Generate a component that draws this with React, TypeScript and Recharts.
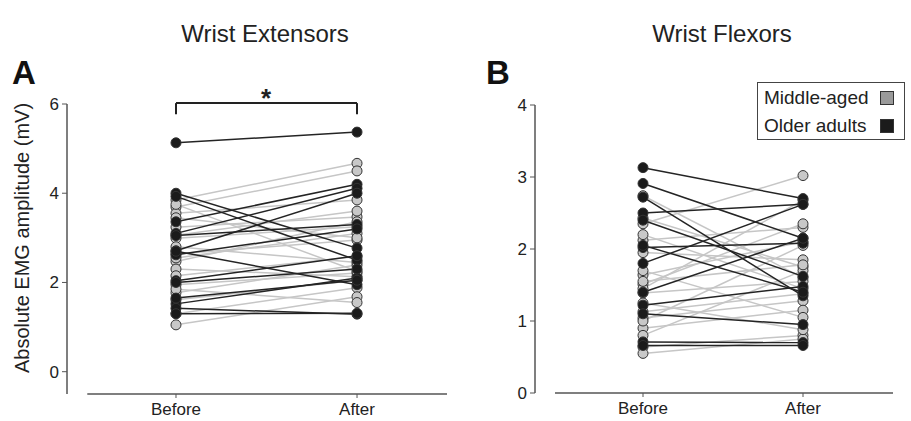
import React from 'react';
import { ComposedChart, Line, XAxis, YAxis, ReferenceLine, Legend } from 'recharts';

const conditions = ['Before', 'After'];
const panelTitles = ['Wrist Extensors', 'Wrist Flexors'];
const groupNames = ['Middle-aged', 'Older adults'];

// Wrist extensors (A), mV
const extMidBefore = [3.85, 3.69, 3.55, 3.24, 3.06, 2.99, 2.64, 2.47, 2.3, 2.15, 1.95, 1.77, 1.61, 1.3, 1.05, 2.8, 3.75, 1.85, 2.55, 3.45];
const extMidAfter = [4.67, 4.5, 3.85, 3.47, 3.6, 3.25, 2.95, 3.36, 2.13, 2.58, 2.21, 2.39, 2.05, 1.88, 1.68, 2.45, 2.25, 1.55, 3.1, 3.0];
const extOldBefore = [5.13, 4.0, 3.93, 3.36, 3.1, 2.71, 3.05, 2.62, 2.04, 1.52, 1.42, 2.7, 2.0, 1.65, 1.3];
const extOldAfter = [5.37, 2.77, 2.5, 4.2, 4.11, 4.0, 3.3, 3.2, 2.6, 2.1, 1.29, 1.95, 2.3, 2.05, 1.31];

// Wrist flexors (B), mV
const flexMidBefore = [2.74, 2.43, 2.35, 2.12, 1.95, 1.64, 1.51, 1.39, 1.13, 1.04, 0.9, 0.64, 0.55, 1.45, 1.7, 1.25, 0.8, 2.2, 1.0, 1.55];
const flexMidAfter = [1.6, 1.75, 3.02, 2.3, 1.85, 2.1, 2.35, 1.55, 1.38, 1.28, 1.15, 0.8, 0.75, 2.68, 1.05, 0.88, 1.7, 1.45, 2.05, 1.78];
const flexOldBefore = [3.13, 2.91, 2.72, 2.5, 2.4, 2.02, 1.8, 1.22, 1.1, 0.71, 0.66, 2.05, 1.4];
const flexOldAfter = [2.7, 2.15, 1.35, 2.62, 1.62, 2.08, 2.62, 1.48, 0.95, 0.7, 0.66, 1.4, 2.15];

const MID = { line: '#c6c6c6', fill: '#c8c8c8' };
const OLD = { line: '#242424', fill: '#1b1b1b' };
const AXIS = '#555';
const FONT = '"Liberation Sans", Arial, sans-serif';

const toPairs = (before: number[], after: number[]) =>
  before.map((b, i) => [
    { x: 0, v: b },
    { x: 1, v: after[i] },
  ]);

function subjectLines(before: number[], after: number[], color: { line: string; fill: string }, key: string) {
  return toPairs(before, after).map((d, i) => (
    <Line
      key={`${key}-${i}`}
      data={d}
      dataKey="v"
      type="linear"
      stroke={color.line}
      strokeWidth={1.5}
      dot={{ r: 5, fill: color.fill, stroke: '#333', strokeWidth: 1 }}
      activeDot={false}
      legendType="none"
      isAnimationActive={false}
    />
  ));
}

const LegendBox = () => (
  <div
    style={{
      border: '1px solid #444',
      width: 148,
      height: 58,
      boxSizing: 'border-box',
      padding: '1px 10px 0 6px',
      background: '#fff',
      fontFamily: FONT,
      fontSize: 19,
      color: '#222',
    }}
  >
    {groupNames.map((name, i) => (
      <div key={name} style={{ display: 'flex', alignItems: 'center', justifyContent: 'space-between', height: 28 }}>
        <span>{name}</span>
        <span
          style={{
            width: 12,
            height: 12,
            background: i === 0 ? '#9a9a9a' : '#1b1b1b',
            border: '1px solid #333',
          }}
        />
      </div>
    ))}
  </div>
);

const tickStyle = { fill: '#222', fontSize: 17 };

export default function App() {
  return (
    <div style={{ position: 'absolute', left: 0, top: 0, width: 911, height: 421, background: '#fff', fontFamily: FONT }}>
      {/* Panel A */}
      <div style={{ position: 'absolute', left: 0, top: 0 }}>
        <ComposedChart width={460} height={421} margin={{ top: 104, right: 13, bottom: 0, left: 7 }}>
          <XAxis
            type="number"
            dataKey="x"
            domain={[-0.602, 1.497]}
            ticks={[0, 1]}
            tickFormatter={(v: number) => conditions[v]}
            allowDataOverflow
            axisLine={false}
            tickLine={{ stroke: AXIS }}
            tickSize={4}
            tickMargin={5}
            height={27}
            tick={tickStyle}
          />
          <YAxis
            type="number"
            domain={[-0.5, 6]}
            ticks={[0, 2, 4, 6]}
            allowDataOverflow
            width={60}
            axisLine={{ stroke: AXIS, strokeWidth: 1.5 }}
            tickLine={{ stroke: AXIS }}
            tickSize={5}
            tickMargin={3}
            tick={tickStyle}
          />
          <ReferenceLine
            segment={[{ x: -0.49, y: -0.5 }, { x: 1.497, y: -0.5 }]}
            stroke={AXIS}
            strokeWidth={1.5}
            ifOverflow="visible"
          />
          {subjectLines(extMidBefore, extMidAfter, MID, 'am')}
          {subjectLines(extOldBefore, extOldAfter, OLD, 'ao')}
          <ReferenceLine segment={[{ x: 0, y: 6.02 }, { x: 1, y: 6.02 }]} stroke="#222" strokeWidth={2} ifOverflow="visible" />
          <ReferenceLine segment={[{ x: 0, y: 6.02 }, { x: 0, y: 5.77 }]} stroke="#222" strokeWidth={2} ifOverflow="visible" />
          <ReferenceLine segment={[{ x: 1, y: 6.02 }, { x: 1, y: 5.77 }]} stroke="#222" strokeWidth={2} ifOverflow="visible" />
        </ComposedChart>
      </div>

      {/* Panel B */}
      <div style={{ position: 'absolute', left: 460, top: 0 }}>
        <ComposedChart width={451} height={421} margin={{ top: 105, right: 18, bottom: 0, left: 15 }}>
          <XAxis
            type="number"
            dataKey="x"
            domain={[-0.675, 1.5625]}
            ticks={[0, 1]}
            tickFormatter={(v: number) => conditions[v]}
            allowDataOverflow
            axisLine={false}
            tickLine={{ stroke: AXIS }}
            tickSize={4}
            tickMargin={5}
            height={28}
            tick={tickStyle}
          />
          <YAxis
            type="number"
            domain={[0, 4]}
            ticks={[0, 1, 2, 3, 4]}
            allowDataOverflow
            width={60}
            axisLine={{ stroke: AXIS, strokeWidth: 1.5 }}
            tickLine={{ stroke: AXIS }}
            tickSize={5}
            tickMargin={3}
            tick={tickStyle}
          />
          <ReferenceLine
            segment={[{ x: -0.55, y: 0 }, { x: 1.5625, y: 0 }]}
            stroke={AXIS}
            strokeWidth={1.5}
            ifOverflow="visible"
          />
          {subjectLines(flexMidBefore, flexMidAfter, MID, 'bm')}
          {subjectLines(flexOldBefore, flexOldAfter, OLD, 'bo')}
          <Legend
            layout="horizontal"
            align="center"
            verticalAlign="middle"
            content={() => <LegendBox />}
            wrapperStyle={{ position: 'absolute', left: 297, top: 82, width: 148 }}
          />
        </ComposedChart>
      </div>

      {/* titles, panel letters, y label */}
      <svg width={911} height={421} style={{ position: 'absolute', left: 0, top: 0, pointerEvents: 'none' }}>
        <text x={265} y={42} textAnchor="middle" fontSize={24} fill="#222">{panelTitles[0]}</text>
        <text x={722} y={42} textAnchor="middle" fontSize={24} fill="#222">{panelTitles[1]}</text>
        <text x={12} y={84} fontSize={33} fontWeight="bold" fill="#111">A</text>
        <text x={486} y={84} fontSize={33} fontWeight="bold" fill="#111">B</text>
        <text x={266} y={107} textAnchor="middle" fontSize={26} fontWeight="bold" fill="#222">*</text>
        <text
          x={29}
          y={238}
          textAnchor="middle"
          fontSize={20}
          fill="#222"
          transform="rotate(-90 29 238)"
        >
          Absolute EMG amplitude (mV)
        </text>
      </svg>
    </div>
  );
}
